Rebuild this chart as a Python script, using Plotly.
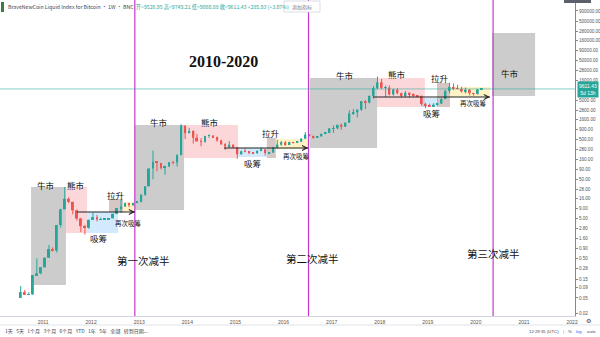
import numpy as np
import pandas as pd
import plotly.graph_objects as go

# ---------------- data (monthly OHLC, USD) ----------------
months = pd.date_range("2010-07-01", "2020-02-01", freq="MS")

open_ = [0.05, 0.07, 0.06, 0.062, 0.19, 0.21,
         0.30, 0.52, 0.86, 0.79, 3.5, 8.7, 16.1, 13.4, 8.2, 5.1, 3.25, 2.97,
         4.7, 5.5, 4.85, 4.9, 4.95, 5.15, 6.7, 9.35, 10.2, 12.4, 11.2, 12.6,
         13.5, 20.4, 33.4, 93, 139, 129, 97, 106, 135, 133, 204, 1130,
         730, 830, 560, 455, 445, 625, 635, 585, 480, 385, 340, 375,
         320, 215, 255, 245, 235, 230, 263, 284, 230, 237, 315, 377,
         430, 368, 437, 416, 448, 530, 673, 624, 575, 608, 700, 742,
         964, 970, 1190, 1070, 1350, 2300, 2480, 2880, 4740, 4340, 6450, 10000,
         14100, 10200, 10400, 6970, 9250, 7500, 6390, 7730, 7030, 6630, 6320, 4020,
         3740, 3460, 3830, 4100, 5330, 8580, 10800, 10080, 9600, 8300, 9200, 7550,
         7200, 9350]
high = [0.10, 0.08, 0.07, 0.19, 0.50, 0.30,
        0.52, 1.10, 0.95, 3.5, 9.0, 31.9, 17.5, 13.5, 8.6, 5.3, 3.5, 4.8,
        7.2, 6.3, 5.4, 5.2, 5.2, 6.8, 9.4, 15.4, 12.8, 12.8, 12.6, 13.9,
        20.8, 33.4, 95, 266, 140, 130, 110, 136, 145, 214, 1240, 1150,
        1000, 870, 700, 550, 630, 680, 650, 600, 500, 410, 460, 380,
        320, 265, 300, 260, 245, 265, 315, 290, 245, 330, 500, 465,
        460, 445, 440, 465, 550, 780, 680, 630, 610, 720, 750, 980,
        1150, 1200, 1290, 1350, 2760, 2980, 2900, 4750, 4980, 6450, 11400, 19800,
        17200, 11800, 11700, 9750, 9990, 7780, 8500, 7760, 7420, 6750, 6600, 4300,
        4100, 4200, 4140, 5600, 9000, 13800, 13200, 12300, 10900, 10400, 9500, 7700,
        9600, 9749]
low = [0.05, 0.06, 0.06, 0.06, 0.19, 0.20,
       0.29, 0.52, 0.75, 0.70, 3.0, 8.7, 12.5, 6.5, 4.5, 2.3, 2.0, 2.8,
       4.7, 4.3, 4.7, 4.8, 4.85, 5.15, 6.6, 7.1, 10.2, 9.9, 10.5, 12.4,
       13.1, 19.1, 33.3, 50, 80, 88, 65, 102, 120, 105, 203, 520,
       730, 400, 450, 340, 420, 560, 570, 445, 370, 275, 315, 310,
       165, 210, 240, 215, 225, 220, 255, 200, 225, 235, 300, 350,
       355, 365, 400, 415, 440, 530, 600, 530, 570, 605, 690, 740,
       750, 920, 890, 1060, 1340, 2100, 1830, 2680, 2980, 4150, 5500, 9500,
       9400, 6000, 6600, 6500, 7030, 5780, 6100, 5880, 6100, 6200, 3650, 3150,
       3400, 3370, 3700, 4080, 5330, 7500, 9100, 9400, 7800, 7400, 6600, 6500,
       6900, 9080]
close = [0.07, 0.06, 0.062, 0.19, 0.21, 0.30,
         0.52, 0.86, 0.79, 3.5, 8.7, 16.1, 13.4, 8.2, 5.1, 3.25, 2.97, 4.7,
         5.5, 4.85, 4.9, 4.95, 5.15, 6.7, 9.35, 10.2, 12.4, 11.2, 12.6, 13.5,
         20.4, 33.4, 93, 139, 129, 97, 106, 135, 133, 204, 1130, 730,
         830, 560, 455, 445, 625, 635, 585, 480, 385, 340, 375, 320,
         215, 255, 245, 235, 230, 263, 284, 230, 237, 315, 377, 430,
         368, 437, 416, 448, 530, 673, 624, 575, 608, 700, 742, 964,
         970, 1190, 1070, 1350, 2300, 2480, 2880, 4740, 4340, 6450, 10000, 14100,
         10200, 10400, 6970, 9250, 7500, 6390, 7730, 7030, 6630, 6320, 4020, 3740,
         3460, 3830, 4100, 5330, 8580, 10800, 10080, 9600, 8300, 9200, 7550, 7200,
         9350, 9611.43]

last_price = 9611.43
halvings = ["2012-11-28", "2016-07-09", "2020-05-11"]
halving_labels = ["第一次减半", "第二次减半", "第三次减半"]

# analysis zones (date range + price range)
zone_kind = ["bull", "bear", "accum", "pump", "reaccum",
             "bull", "bear", "accum", "pump", "reaccum",
             "bull", "bear", "accum", "pump", "reaccum",
             "bull"]
zone_start = ["2010-10-02", "2011-06-24", "2011-12-01", "2012-05-16", "2012-08-31",
              "2012-11-29", "2013-12-07", "2015-01-21", "2015-08-28", "2015-11-04",
              "2016-07-20", "2017-12-12", "2018-11-17", "2019-03-12", "2019-06-19",
              "2020-05-03"]
zone_end = ["2011-06-24", "2011-12-01", "2012-07-24", "2012-08-31", "2012-11-29",
            "2013-12-07", "2015-01-21", "2015-08-28", "2015-11-04", "2016-07-06",
            "2017-12-12", "2018-12-10", "2019-03-20", "2019-06-19", "2020-04-17",
            "2021-03-26"]
zone_low = [0.106, 2.19, 2.19, 7.45, 7.45,
            8.37, 172.6, 183, 172.6, 291,
            309, 3360, 3360, 3360, 6010,
            6370]
zone_high = [31.9, 31.9, 7.45, 15.9, 13.3,
             1178, 1178, 309, 553, 522,
             18170, 18170, 5670, 13580, 10770,
             249600]

arrow_start = ["2011-09-15", "2014-10-06", "2017-11-11"]
arrow_end = ["2012-11-29", "2016-07-06", "2020-04-17"]
arrow_price = [7.45, 309, 6010]

y_ticks = [0.02, 0.05, 0.09, 0.15, 0.28, 0.5, 0.9, 1.6, 2.8, 5, 9, 16, 28, 50, 90,
           160, 280, 500, 900, 1600, 2800, 5000, 16000, 28000, 50000, 90000,
           160000, 280000, 500000, 900000]
year_ticks = [str(y) for y in range(2011, 2023)]

# ---------------- styling ----------------
W, H = 600, 337
PW, PH = 575, 316
UP, DOWN = "#26a69a", "#ef5350"
zone_color = {"bull": "rgba(120,120,120,0.38)", "bear": "rgba(242,54,69,0.20)",
              "accum": "rgba(33,150,243,0.20)", "pump": "rgba(120,70,60,0.30)",
              "reaccum": "rgba(255,215,64,0.30)"}
CJK = "Noto Sans CJK SC"
SMALL = "Liberation Sans"


def px(x):
    return x / PW


def py(y):
    return 1 - y / PH


o = np.array(open_, float)
h = np.array(high, float)
l = np.array(low, float)
c = np.array(close, float)
mid = months + pd.Timedelta(days=14)
up = c >= o

fig = go.Figure()
# wicks
for mask, col in [(up, UP), (~up, DOWN)]:
    wx, wy = [], []
    for t, lo_, hi_ in zip(mid[mask], l[mask], h[mask]):
        wx += [t, t, None]
        wy += [lo_, hi_, None]
    fig.add_trace(go.Scatter(x=wx, y=wy, mode="lines", line=dict(color=col, width=1),
                             hoverinfo="skip", showlegend=False))
# bodies
body = np.maximum(np.abs(c - o), np.minimum(o, c) * 0.02)
fig.add_trace(go.Bar(x=mid, base=np.minimum(o, c), y=body,
                     width=15 * 86400000,
                     marker=dict(color=[UP if u else DOWN for u in up], line=dict(width=0)),
                     hoverinfo="skip", showlegend=False))

shapes = []
for k, x0, x1, lo, hi in zip(zone_kind, zone_start, zone_end, zone_low, zone_high):
    shapes.append(dict(type="rect", xref="x", yref="y", x0=x0, x1=x1, y0=lo, y1=hi,
                       fillcolor=zone_color[k], line=dict(width=0), layer="below"))
for d in halvings:
    shapes.append(dict(type="line", xref="x", yref="paper", x0=d, x1=d, y0=0, y1=1,
                       line=dict(color="#c837d0", width=1.2)))
shapes.append(dict(type="line", xref="paper", yref="y", x0=0, x1=1, y0=last_price,
                   y1=last_price, line=dict(color="rgba(38,166,154,0.55)", width=1)))
for a0, a1, p in zip(arrow_start, arrow_end, arrow_price):
    shapes.append(dict(type="line", xref="x", yref="y", x0=a0, x1=a1, y0=p, y1=p,
                       line=dict(color="#222", width=1.2)))
# toolbar separator, crosshair stub and top tags
shapes.append(dict(type="line", xref="paper", yref="paper", x0=0, x1=W / PW,
                   y0=py(325), y1=py(325), line=dict(color="#e0e3eb", width=1)))
shapes.append(dict(type="rect", xref="paper", yref="paper", x0=px(564), x1=px(591),
                   y0=py(3), y1=py(-1), fillcolor="#5d606b", line=dict(width=0)))
shapes.append(dict(type="rect", xref="paper", yref="paper", x0=px(1), x1=px(4),
                   y0=py(12), y1=py(2), fillcolor="#3a7d44", line=dict(width=0)))
shapes.append(dict(type="rect", xref="paper", yref="paper", x0=px(284), x1=px(320),
                   y0=py(12), y1=py(1), fillcolor="white",
                   line=dict(color="#d1d4dc", width=0.8)))

ann = []


def label(text, x, y, size, family=CJK, color="#111", **kw):
    ann.append(dict(text=text, x=px(x), y=py(y), xref="paper", yref="paper",
                    showarrow=False, font=dict(size=size, family=family, color=color),
                    xanchor=kw.get("xanchor", "center"), yanchor="middle",
                    bgcolor=kw.get("bgcolor"), borderpad=kw.get("borderpad", 0)))


zone_text = [("牛市", 46, 185), ("熊市", 76, 185), ("吸筹", 99, 238), ("拉升", 116, 195),
             ("牛市", 159, 122), ("熊市", 210, 122), ("吸筹", 253, 163), ("拉升", 271, 133),
             ("牛市", 345, 75), ("熊市", 397, 74), ("吸筹", 432, 113), ("拉升", 440, 78),
             ("牛市", 510, 73)]
for t, x, y in zone_text:
    label(t, x, y, 8.5)
for x, y in [(128, 223), (296, 156), (473, 103)]:
    label("再次吸筹", x, y, 6.5)
for t, (x, y) in zip(halving_labels, [(143, 260), (312, 258), (493, 254)]):
    label(t, x, y, 10.5)
label("<b>2010-2020</b>", 223, 62, 16, family="Liberation Serif")

# arrow heads
for a1, p in zip(arrow_end, arrow_price):
    ann.append(dict(x=a1, y=np.log10(p), xref="x", yref="y", text="", showarrow=True,
                    ax=-6, ay=0, arrowhead=5, arrowsize=0.9, arrowwidth=1.1,
                    arrowcolor="#222", standoff=0))

# header
ann.append(dict(text="BraveNewCoin Liquid Index for Bitcoin · 1W · BNC  "
                     "<span style='color:#26a69a'>开=9526.95 高=9749.21 低=9080.88 "
                     "收=9611.43 +285.93 (+3.07%)</span>",
                x=px(6), y=py(6.5), xref="paper", yref="paper", showarrow=False,
                xanchor="left", yanchor="middle",
                font=dict(size=5.2, family=CJK, color="#434651")))
label("添加指标", 302, 6.5, 5, color="#787b86")
# price tag
ann.append(dict(text="9611.43<br>5d 13h", x=px(588), y=py(90), xref="paper", yref="paper",
                showarrow=False, xanchor="center", yanchor="middle", bgcolor="#26a69a",
                font=dict(size=5, family=SMALL, color="white"), borderpad=1))
# bottom toolbar
label("1天   5天   1个月   3个月   6个月   YTD   1年   5年   全部", 4, 331, 5,
      color="#434651", xanchor="left")
label("|   转到日期...", 118, 331, 5, color="#434651", xanchor="left")
label("12:29:35 (UTC)", 528, 331, 4.3, family=SMALL, color="#434651", xanchor="left")
label("|", 563, 331, 4.3, family=SMALL, color="#9598a1")
label("%", 570, 331, 4.3, family=SMALL, color="#434651")
label("log", 579, 331, 4.3, family=SMALL, color="#2962ff")
label("auto", 591, 331, 4.3, family=SMALL, color="#434651")
label("⚙", 588, 320, 6, color="#434651")

fig.update_layout(
    width=W, height=H, margin=dict(l=0, r=W - PW, t=0, b=H - PH),
    paper_bgcolor="white", plot_bgcolor="white", showlegend=False,
    shapes=shapes, annotations=ann,
    xaxis=dict(type="date", range=["2010-02-08", "2022-01-23"],
               showgrid=False, zeroline=False,
               tickvals=[f"{y}-01-01" for y in year_ticks], ticktext=year_ticks,
               tickfont=dict(size=5, family=SMALL, color="#555"), ticks="",
               showline=True, linecolor="#d1d4dc", linewidth=1, ticklabelstandoff=1),
    yaxis=dict(type="log", range=[-1.757, 6.231], side="right", showgrid=False,
               zeroline=False, tickvals=y_ticks, ticktext=[f"{v:.2f}" for v in y_ticks],
               tickfont=dict(size=4.6, family=SMALL, color="#555"), ticks="outside",
               ticklen=2, tickcolor="#888", showline=True, linecolor="#888",
               linewidth=1),
)

fig.write_html("out.html")
